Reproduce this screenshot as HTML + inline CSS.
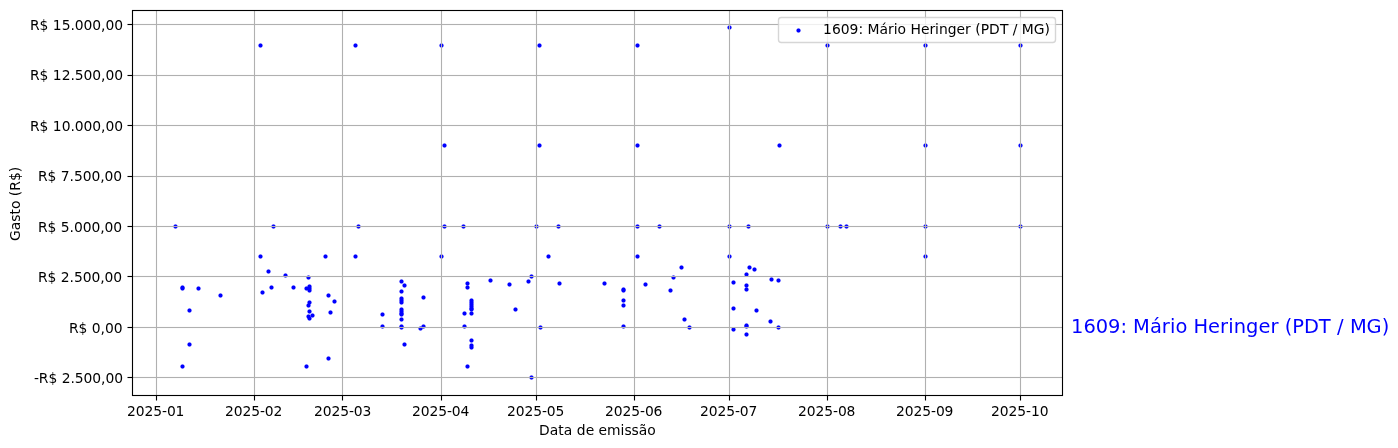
<!DOCTYPE html>
<html lang="pt-BR"><head><meta charset="utf-8"><title>Gastos</title>
<style>html,body{margin:0;padding:0;background:#fff}svg{display:block}text{white-space:pre}</style>
</head><body>
<svg width="1398" height="448" viewBox="0 0 1398 448" font-family="'DejaVu Sans', 'Liberation Sans', sans-serif" font-size="13.889px" fill="#000" text-rendering="auto">
<rect x="0" y="0" width="1398" height="448" fill="#fff"/>
<defs><g id="d" fill="#0000ff" shape-rendering="crispEdges"><path d="M-1,-1h3v3h-3z"/><path fill-opacity="0.56" d="M0,-2h1v1h-1zM0,2h1v1h-1zM-2,0h1v1h-1zM2,0h1v1h-1z"/><path fill-opacity="0.306" d="M-1,-2h1v1h-1zM1,-2h1v1h-1zM-1,2h1v1h-1zM1,2h1v1h-1zM-2,-1h1v1h-1zM-2,1h1v1h-1zM2,-1h1v1h-1zM2,1h1v1h-1z"/></g></defs>
<g>
<use href="#d" x="260" y="45"/>
<use href="#d" x="355" y="45"/>
<use href="#d" x="441" y="45"/>
<use href="#d" x="539" y="45"/>
<use href="#d" x="637" y="45"/>
<use href="#d" x="827" y="45"/>
<use href="#d" x="925" y="45"/>
<use href="#d" x="1020" y="45"/>
<use href="#d" x="729" y="27"/>
<use href="#d" x="444" y="145"/>
<use href="#d" x="539" y="145"/>
<use href="#d" x="637" y="145"/>
<use href="#d" x="779" y="145"/>
<use href="#d" x="925" y="145"/>
<use href="#d" x="1020" y="145"/>
<use href="#d" x="175" y="226"/>
<use href="#d" x="273" y="226"/>
<use href="#d" x="358" y="226"/>
<use href="#d" x="444" y="226"/>
<use href="#d" x="463" y="226"/>
<use href="#d" x="536" y="226"/>
<use href="#d" x="558" y="226"/>
<use href="#d" x="637" y="226"/>
<use href="#d" x="659" y="226"/>
<use href="#d" x="729" y="226"/>
<use href="#d" x="748" y="226"/>
<use href="#d" x="827" y="226"/>
<use href="#d" x="840" y="226"/>
<use href="#d" x="846" y="226"/>
<use href="#d" x="925" y="226"/>
<use href="#d" x="1020" y="226"/>
<use href="#d" x="260" y="256"/>
<use href="#d" x="325" y="256"/>
<use href="#d" x="355" y="256"/>
<use href="#d" x="441" y="256"/>
<use href="#d" x="548" y="256"/>
<use href="#d" x="637" y="256"/>
<use href="#d" x="729" y="256"/>
<use href="#d" x="925" y="256"/>
<use href="#d" x="182" y="287"/>
<use href="#d" x="182" y="288"/>
<use href="#d" x="198" y="288"/>
<use href="#d" x="220" y="295"/>
<use href="#d" x="189" y="310"/>
<use href="#d" x="189" y="344"/>
<use href="#d" x="182" y="366"/>
<use href="#d" x="268" y="271"/>
<use href="#d" x="285" y="275"/>
<use href="#d" x="308" y="277"/>
<use href="#d" x="271" y="287"/>
<use href="#d" x="262" y="292"/>
<use href="#d" x="293" y="287"/>
<use href="#d" x="306" y="288"/>
<use href="#d" x="309" y="286"/>
<use href="#d" x="309" y="290"/>
<use href="#d" x="309" y="302"/>
<use href="#d" x="308" y="305"/>
<use href="#d" x="309" y="311"/>
<use href="#d" x="312" y="315"/>
<use href="#d" x="308" y="316"/>
<use href="#d" x="309" y="318"/>
<use href="#d" x="328" y="295"/>
<use href="#d" x="334" y="301"/>
<use href="#d" x="330" y="312"/>
<use href="#d" x="306" y="366"/>
<use href="#d" x="328" y="358"/>
<use href="#d" x="401" y="281"/>
<use href="#d" x="404" y="285"/>
<use href="#d" x="401" y="291"/>
<use href="#d" x="401" y="298"/>
<use href="#d" x="401" y="300"/>
<use href="#d" x="401" y="302"/>
<use href="#d" x="401" y="309"/>
<use href="#d" x="401" y="311"/>
<use href="#d" x="401" y="313"/>
<use href="#d" x="401" y="319"/>
<use href="#d" x="401" y="327"/>
<use href="#d" x="382" y="314"/>
<use href="#d" x="382" y="326"/>
<use href="#d" x="420" y="328"/>
<use href="#d" x="423" y="326"/>
<use href="#d" x="423" y="297"/>
<use href="#d" x="404" y="344"/>
<use href="#d" x="467" y="283"/>
<use href="#d" x="467" y="287"/>
<use href="#d" x="490" y="280"/>
<use href="#d" x="509" y="284"/>
<use href="#d" x="528" y="281"/>
<use href="#d" x="531" y="276"/>
<use href="#d" x="471" y="300"/>
<use href="#d" x="471" y="302"/>
<use href="#d" x="471" y="304"/>
<use href="#d" x="471" y="306"/>
<use href="#d" x="471" y="308"/>
<use href="#d" x="471" y="313"/>
<use href="#d" x="464" y="313"/>
<use href="#d" x="464" y="326"/>
<use href="#d" x="471" y="340"/>
<use href="#d" x="471" y="345"/>
<use href="#d" x="471" y="347"/>
<use href="#d" x="467" y="366"/>
<use href="#d" x="515" y="309"/>
<use href="#d" x="531" y="377"/>
<use href="#d" x="540" y="327"/>
<use href="#d" x="559" y="283"/>
<use href="#d" x="604" y="283"/>
<use href="#d" x="623" y="289"/>
<use href="#d" x="623" y="290"/>
<use href="#d" x="623" y="300"/>
<use href="#d" x="623" y="305"/>
<use href="#d" x="623" y="326"/>
<use href="#d" x="645" y="284"/>
<use href="#d" x="670" y="290"/>
<use href="#d" x="673" y="277"/>
<use href="#d" x="681" y="267"/>
<use href="#d" x="684" y="319"/>
<use href="#d" x="689" y="327"/>
<use href="#d" x="749" y="267"/>
<use href="#d" x="754" y="269"/>
<use href="#d" x="746" y="274"/>
<use href="#d" x="771" y="279"/>
<use href="#d" x="778" y="280"/>
<use href="#d" x="733" y="282"/>
<use href="#d" x="746" y="285"/>
<use href="#d" x="746" y="289"/>
<use href="#d" x="733" y="308"/>
<use href="#d" x="756" y="310"/>
<use href="#d" x="770" y="321"/>
<use href="#d" x="746" y="325"/>
<use href="#d" x="778" y="327"/>
<use href="#d" x="733" y="329"/>
<use href="#d" x="746" y="334"/>
<use href="#d" x="309" y="288"/>
<use href="#d" x="401" y="314"/>
<use href="#d" x="471" y="309"/>
<use href="#d" x="746" y="326"/>
<use href="#d" x="401" y="326"/>
</g>
<g fill="#b0b0b0">
<rect x="155.9445" y="10.5" width="1.111" height="385.0"/>
<rect x="253.9445" y="10.5" width="1.111" height="385.0"/>
<rect x="341.9445" y="10.5" width="1.111" height="385.0"/>
<rect x="440.9445" y="10.5" width="1.111" height="385.0"/>
<rect x="535.9445" y="10.5" width="1.111" height="385.0"/>
<rect x="633.9445" y="10.5" width="1.111" height="385.0"/>
<rect x="728.9445" y="10.5" width="1.111" height="385.0"/>
<rect x="826.9445" y="10.5" width="1.111" height="385.0"/>
<rect x="924.9445" y="10.5" width="1.111" height="385.0"/>
<rect x="1019.9445" y="10.5" width="1.111" height="385.0"/>
<rect x="132.5" y="23.9445" width="930.0" height="1.111"/>
<rect x="132.5" y="74.9445" width="930.0" height="1.111"/>
<rect x="132.5" y="124.9445" width="930.0" height="1.111"/>
<rect x="132.5" y="175.9445" width="930.0" height="1.111"/>
<rect x="132.5" y="225.9445" width="930.0" height="1.111"/>
<rect x="132.5" y="275.9445" width="930.0" height="1.111"/>
<rect x="132.5" y="326.9445" width="930.0" height="1.111"/>
<rect x="132.5" y="376.9445" width="930.0" height="1.111"/>
</g>
<g fill="#000">
<rect x="155.9445" y="395.5" width="1.111" height="5"/>
<rect x="253.9445" y="395.5" width="1.111" height="5"/>
<rect x="341.9445" y="395.5" width="1.111" height="5"/>
<rect x="440.9445" y="395.5" width="1.111" height="5"/>
<rect x="535.9445" y="395.5" width="1.111" height="5"/>
<rect x="633.9445" y="395.5" width="1.111" height="5"/>
<rect x="728.9445" y="395.5" width="1.111" height="5"/>
<rect x="826.9445" y="395.5" width="1.111" height="5"/>
<rect x="924.9445" y="395.5" width="1.111" height="5"/>
<rect x="1019.9445" y="395.5" width="1.111" height="5"/>
<rect x="127.5" y="23.9445" width="5" height="1.111"/>
<rect x="127.5" y="74.9445" width="5" height="1.111"/>
<rect x="127.5" y="124.9445" width="5" height="1.111"/>
<rect x="127.5" y="175.9445" width="5" height="1.111"/>
<rect x="127.5" y="225.9445" width="5" height="1.111"/>
<rect x="127.5" y="275.9445" width="5" height="1.111"/>
<rect x="127.5" y="326.9445" width="5" height="1.111"/>
<rect x="127.5" y="376.9445" width="5" height="1.111"/>
</g>
<rect x="132.5" y="10.5" width="930.0" height="385.0" fill="none" stroke="#000" stroke-width="1.111" stroke-linejoin="miter"/>
<text x="29.97 39.6 48.47 52.85 61.72 70.47 74.85 83.6 92.35 101.1 105.47 114.22" y="29.75">R$ 15.000,00</text>
<text x="29.97 39.6 48.47 52.85 61.72 70.47 74.85 83.6 92.35 101.1 105.47 114.22" y="79.75">R$ 12.500,00</text>
<text x="29.97 39.6 48.47 52.85 61.72 70.47 74.85 83.6 92.35 101.1 105.47 114.22" y="130.75">R$ 10.000,00</text>
<text x="37.97 47.6 56.47 60.85 69.6 73.97 82.72 91.47 100.22 104.6 113.35" y="180.75">R$ 7.500,00</text>
<text x="37.97 47.6 56.47 60.85 69.6 73.97 82.72 91.47 100.22 104.6 113.35" y="231.75">R$ 5.000,00</text>
<text x="37.97 47.6 56.47 60.85 69.6 73.97 82.72 91.47 100.22 104.6 113.35" y="281.75">R$ 2.500,00</text>
<text x="68.97 78.6 87.47 91.85 100.6 104.97 113.72" y="332.75">R$ 0,00</text>
<text x="33.97 38.85 48.47 57.35 61.72 70.47 74.85 83.6 92.35 101.1 105.47 114.22" y="382.75">-R$ 2.500,00</text>
<text x="127 135.75 144.5 153.25 162 166.88 175.62" y="415.75">2025-01</text>
<text x="224.94 233.69 242.44 251.19 259.94 264.81 273.56" y="415.75">2025-02</text>
<text x="313.94 322.69 331.44 340.19 348.94 353.81 362.56" y="415.75">2025-03</text>
<text x="411.94 420.69 429.44 438.19 446.94 451.81 460.56" y="415.75">2025-04</text>
<text x="506.94 515.69 524.44 533.19 541.94 546.81 555.56" y="415.75">2025-05</text>
<text x="605 613.75 622.5 631.25 640 644.88 653.62" y="415.75">2025-06</text>
<text x="699.94 708.69 717.44 726.19 734.94 739.81 748.56" y="415.75">2025-07</text>
<text x="798 806.75 815.5 824.25 833 837.88 846.62" y="415.75">2025-08</text>
<text x="896 904.75 913.5 922.25 931 935.88 944.62" y="415.75">2025-09</text>
<text x="991 999.75 1008.5 1017.25 1026 1030.88 1039.75" y="415.75">2025-10</text>
<text x="538.94 549.69 558.31 563.81 572.44 576.81 585.69 594.19 598.56 607.06 620.56 624.44 631.56 638.69 647.31" y="434.75">Data de emissão</text>
<text transform="translate(19.88,203.88) rotate(-90)" x="-37.12 -26.38 -17.75 -10.62 -5.12 3.38 7.75 13.25 22.88 31.75" y="0">Gasto (R$)</text>
<path d="M781.28,17.5 L1052.72,17.5 Q1055.5,17.5 1055.5,20.28 L1055.5,39.72 Q1055.5,42.5 1052.72,42.5 L781.28,42.5 Q778.5,42.5 778.5,39.72 L778.5,20.28 Q778.5,17.5 781.28,17.5 Z" fill="#fff" fill-opacity="0.8" stroke="#cccccc" stroke-opacity="0.8" stroke-width="1.389"/>
<use href="#d" x="798" y="30"/>
<text x="823 831.88 840.75 849.5 858.38 863 867.38 879.38 888 893.75 897.62 906.12 910.5 920.88 929.38 935.12 939 947.75 956.62 965.12 970.88 975.25 980.75 989.12 999.88 1008.38 1012.75 1017.38 1021.75 1033.75 1044.5" y="33.75">1609: Mário Heringer (PDT / MG)</text>
<text x="1071 1083.38 1095.75 1108 1120.38 1126.88 1133.12 1149.88 1161.75 1169.88 1175.38 1187.38 1193.62 1208.12 1220.12 1228.25 1233.75 1246 1258.38 1270.38 1278.5 1284.75 1292.25 1303.88 1318.75 1330.75 1337 1343.62 1349.88 1366.62 1381.75" y="332.75" font-size="19.444px" fill="#0000ff">1609: Mário Heringer (PDT / MG)</text>
</svg>
</body></html>
